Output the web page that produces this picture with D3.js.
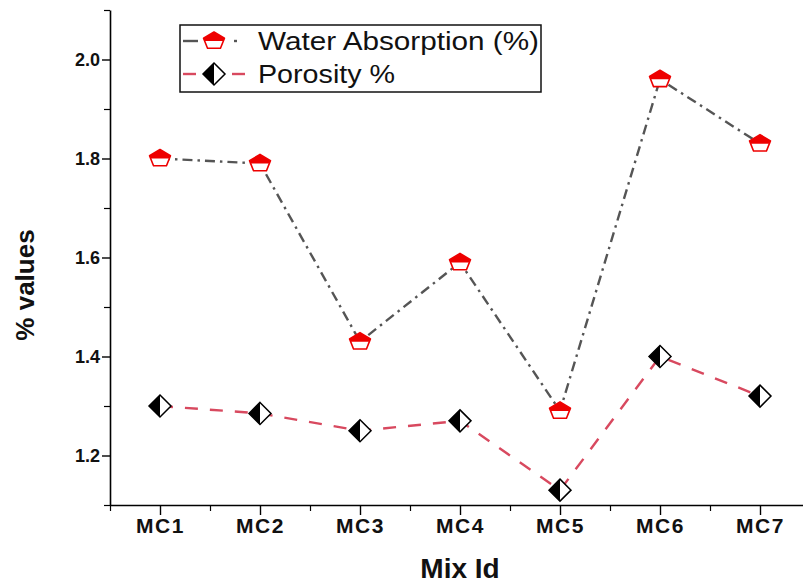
<!DOCTYPE html>
<html>
<head>
<meta charset="utf-8">
<script src="https://cdn.jsdelivr.net/npm/d3@7"></script>
<style>
  html, body { margin: 0; padding: 0; background: #fff; }
  svg { display: block; }
  text { font-family: "Liberation Sans", Arial, sans-serif; }
</style>
</head>
<body>
<svg id="chart" width="803" height="583"></svg>
<script>
// Mix designs and measured values
const categories = ["MC1", "MC2", "MC3", "MC4", "MC5", "MC6", "MC7"];
const waterAbsorption = [1.80, 1.79, 1.43, 1.59, 1.29, 1.96, 1.83];
const porosity = [1.30, 1.285, 1.25, 1.27, 1.13, 1.40, 1.32];
const yMajorTicks = [1.2, 1.4, 1.6, 1.8, 2.0];
const yMinorTicks = [1.1, 1.3, 1.5, 1.7, 1.9, 2.1];
const seriesNames = ["Water Absorption (%)", "Porosity %"];

const svg = d3.select("#chart");
const W = 803, H = 583;
svg.append("rect").attr("width", W).attr("height", H).attr("fill", "#fff");

const x = d3.scaleLinear().domain([0.5, 7.5]).range([110, 810]);
const y = d3.scaleLinear().domain([1.1, 2.1]).range([505, 10]);

const waColor = "#555555";
const waMarker = "#ee0000";
const poColor = "#d8495f";

// ---- axes ----
const xAxis = svg.append("g").attr("transform", `translate(0,${y(1.1)})`)
  .call(d3.axisBottom(x)
    .tickValues(categories.map((d, i) => i + 1))
    .tickFormat((d) => categories[d - 1])
    .tickSize(10).tickSizeOuter(0));
xAxis.select(".domain").attr("stroke", "#000").attr("stroke-width", 1.6);
xAxis.selectAll(".tick line").attr("stroke", "#000").attr("stroke-width", 1.4);
xAxis.selectAll(".tick text")
  .attr("y", 13).attr("dy", "0.71em")
  .attr("font-size", 21).attr("font-weight", "bold").attr("fill", "#111")
  .attr("letter-spacing", 1.5)
  .style("font-family", "'Liberation Sans', Arial, sans-serif");

const xMinor = svg.append("g").attr("transform", `translate(0,${y(1.1)})`)
  .call(d3.axisBottom(x)
    .tickValues(d3.range(0.5, 8, 1))
    .tickFormat("").tickSize(6).tickSizeOuter(0));
xMinor.select(".domain").remove();
xMinor.selectAll(".tick line").attr("stroke", "#000").attr("stroke-width", 1.2);

const yAxis = svg.append("g").attr("transform", `translate(${x(0.5)},0)`)
  .call(d3.axisLeft(y)
    .tickValues(yMajorTicks)
    .tickFormat(d3.format(".1f"))
    .tickSize(8).tickSizeOuter(0));
yAxis.select(".domain").attr("stroke", "#000").attr("stroke-width", 1.6);
yAxis.selectAll(".tick line").attr("stroke", "#000").attr("stroke-width", 1.4);
yAxis.selectAll(".tick text")
  .attr("x", -10)
  .attr("font-size", 18).attr("font-weight", "bold").attr("fill", "#111")
  .style("font-family", "'Liberation Sans', Arial, sans-serif");

const yMinor = svg.append("g").attr("transform", `translate(${x(0.5)},0)`)
  .call(d3.axisLeft(y).tickValues(yMinorTicks).tickFormat("").tickSize(6).tickSizeOuter(0));
yMinor.select(".domain").remove();
yMinor.selectAll(".tick line").attr("stroke", "#000").attr("stroke-width", 1.2);

// ---- axis titles ----
svg.append("text")
  .attr("x", 460).attr("y", 578)
  .attr("text-anchor", "middle")
  .attr("font-size", 28).attr("font-weight", "bold").attr("fill", "#111")
  .text("Mix Id");

svg.append("text")
  .attr("transform", "translate(34,285) rotate(-90)")
  .attr("text-anchor", "middle")
  .attr("font-size", 26).attr("font-weight", "bold").attr("fill", "#111")
  .text("% values");

// ---- marker shapes ----
// pentagon pointing up: top half solid, bottom half white
function pentagonPoints(r, sy) {
  return d3.range(5).map((k) => {
    const a = -Math.PI / 2 + k * 2 * Math.PI / 5;
    return [r * Math.cos(a), r * Math.sin(a) * sy];
  });
}
function drawPentagon(g, cx, cy) {
  const pts = pentagonPoints(11, 0.82);
  const grp = g.append("g").attr("transform", `translate(${cx},${cy})`);
  grp.append("path")
    .attr("d", "M" + pts.join("L") + "Z")
    .attr("fill", "#fff");
  // upper half of the outline, filled solid
  const upper = [];
  for (let i = 0; i < pts.length; i++) {
    const p = pts[i], q = pts[(i + 1) % pts.length];
    if (p[1] <= 0) upper.push(p);
    if ((p[1] < 0 && q[1] > 0) || (p[1] > 0 && q[1] < 0)) {
      const t = p[1] / (p[1] - q[1]);
      upper.push([p[0] + t * (q[0] - p[0]), 0]);
    }
  }
  grp.append("path")
    .attr("d", "M" + upper.join("L") + "Z")
    .attr("fill", waMarker);
  grp.append("path")
    .attr("d", "M" + pts.join("L") + "Z")
    .attr("fill", "none").attr("stroke", waMarker).attr("stroke-width", 1.6)
    .attr("stroke-linejoin", "round");
}
function drawDiamond(g, cx, cy) {
  const rx = 11, ry = 11;
  const grp = g.append("g").attr("transform", `translate(${cx},${cy})`);
  grp.append("path").attr("d", `M0,${-ry}L${rx},0L0,${ry}Z`).attr("fill", "#fff");
  grp.append("path").attr("d", `M0,${-ry}L${-rx},0L0,${ry}Z`).attr("fill", "#000");
  grp.append("path").attr("d", `M0,${-ry}L${rx},0L0,${ry}L${-rx},0Z`)
    .attr("fill", "none").attr("stroke", "#000").attr("stroke-width", 1.5)
    .attr("stroke-linejoin", "miter");
}

// ---- series lines ----
const line = d3.line().x((d, i) => x(i + 1)).y((d) => y(d));

svg.append("path")
  .datum(waterAbsorption)
  .attr("d", line)
  .attr("fill", "none")
  .attr("stroke", waColor).attr("stroke-width", 2.4)
  .attr("stroke-dasharray", "10,5,2.5,5");

svg.append("path")
  .datum(porosity)
  .attr("d", line)
  .attr("fill", "none")
  .attr("stroke", poColor).attr("stroke-width", 2.4)
  .attr("stroke-dasharray", "13,12");

// ---- markers ----
const mk = svg.append("g");
waterAbsorption.forEach((v, i) => drawPentagon(mk, x(i + 1), y(v)));
porosity.forEach((v, i) => drawDiamond(mk, x(i + 1), y(v)));

// ---- legend ----
const lg = svg.append("g");
lg.append("rect")
  .attr("x", 180).attr("y", 25).attr("width", 361).attr("height", 67)
  .attr("fill", "#fff").attr("stroke", "#111").attr("stroke-width", 1.5);

// water absorption entry
lg.append("line").attr("x1", 183).attr("x2", 198).attr("y1", 41).attr("y2", 41)
  .attr("stroke", waColor).attr("stroke-width", 2.4);
lg.append("line").attr("x1", 234).attr("x2", 237).attr("y1", 41).attr("y2", 41)
  .attr("stroke", waColor).attr("stroke-width", 2.4);
drawPentagon(lg, 214, 41);
lg.append("text")
  .attr("x", 258).attr("y", 50)
  .attr("font-size", 25).attr("fill", "#111")
  .attr("textLength", 281).attr("lengthAdjust", "spacingAndGlyphs")
  .text(seriesNames[0]);

// porosity entry
lg.append("line").attr("x1", 183).attr("x2", 196).attr("y1", 74).attr("y2", 74)
  .attr("stroke", poColor).attr("stroke-width", 2.4);
lg.append("line").attr("x1", 232).attr("x2", 245).attr("y1", 74).attr("y2", 74)
  .attr("stroke", poColor).attr("stroke-width", 2.4);
drawDiamond(lg, 214, 74);
lg.append("text")
  .attr("x", 258).attr("y", 83)
  .attr("font-size", 25).attr("fill", "#111")
  .attr("textLength", 137).attr("lengthAdjust", "spacingAndGlyphs")
  .text(seriesNames[1]);
</script>
</body>
</html>
